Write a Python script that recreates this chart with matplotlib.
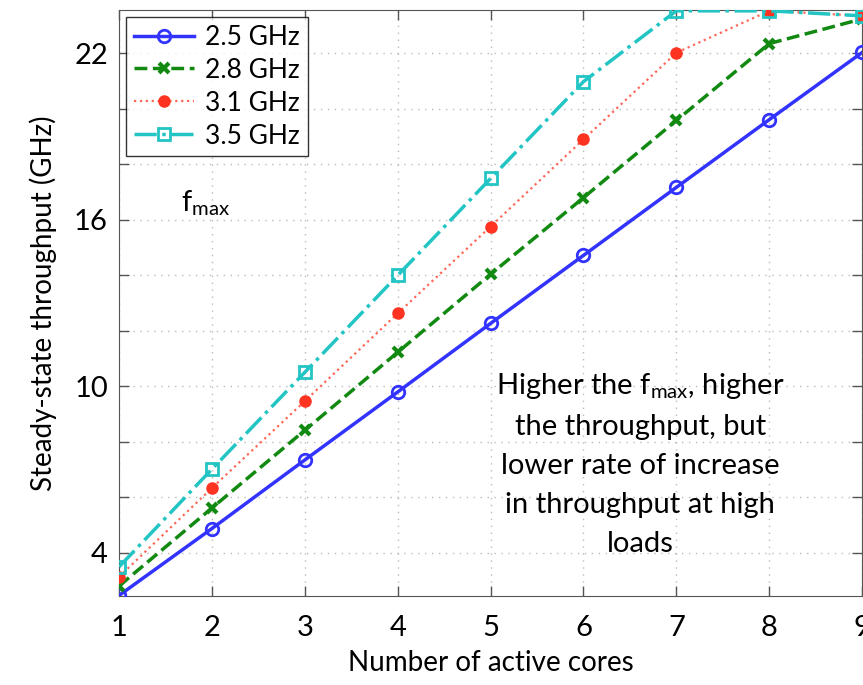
import matplotlib
matplotlib.use("Agg")
import matplotlib.pyplot as plt
import numpy as np

plt.rcParams["font.family"] = ["Lato", "DejaVu Sans"]

cores = [1, 2, 3, 4, 5, 6, 7, 8, 9]
freq_labels = ["2.5 GHz", "2.8 GHz", "3.1 GHz", "3.5 GHz"]
tp_25 = [2.47, 4.88, 7.35, 9.8, 12.27, 14.72, 17.17, 19.61, 22.03]
tp_28 = [2.81, 5.62, 8.42, 11.23, 14.04, 16.8, 19.58, 22.35, 23.24]
tp_31 = [3.14, 6.34, 9.47, 12.63, 15.76, 18.9, 22.02, 23.53, 23.35]
tp_35 = [3.5, 7.02, 10.51, 14.0, 17.49, 20.98, 23.53, 23.53, 23.35]

y_ticks = [4, 6, 8, 10, 12, 14, 16, 18, 20, 22]
y_labels = ["4", "", "", "10", "", "", "16", "", "", "22"]

fig = plt.figure(figsize=(8.63, 6.85), dpi=100)
ax = fig.add_axes([0.138, 0.130, 0.861, 0.855])

ax.plot(cores, tp_25, "-o", color="#3333ff", lw=2.5, ms=9, mfc="none", mew=2,
        label=freq_labels[0], zorder=3)
ax.plot(cores, tp_28, "--x", color="#128a12", lw=2.5, ms=7, mew=3,
        label=freq_labels[1], zorder=3)
ax.plot(cores, tp_31, ":o", color="#ff6655", lw=1.6, ms=8, mfc="#ff3322",
        mec="#ff3322", label=freq_labels[2], zorder=3)
ax.plot(cores, tp_35, "-.s", color="#22c4c4", lw=2.5, ms=8, mfc="none", mew=2,
        label=freq_labels[3], zorder=3)

ax.set_xlim(1, 9)
ax.set_ylim(2.45, 23.55)
ax.set_xticks(cores)
ax.set_yticks(y_ticks)
ax.set_yticklabels(y_labels)
ax.tick_params(direction="in", length=7, width=1, colors="#555555",
               labelcolor="black", labelsize=21, top=True, right=True, pad=8)
ax.tick_params(axis="x", pad=14)
ax.grid(True, linestyle=(0, (1, 4)), color="#bbbbbb", lw=1)
for s in ax.spines.values():
    s.set_color("#555555")

ax.set_xlabel("Number of active cores", fontsize=20, labelpad=6)
ax.set_ylabel("Steady-state throughput (GHz)", fontsize=20, labelpad=12)

leg = ax.legend(loc="upper left", frameon=True, fancybox=False,
                edgecolor="black", borderpad=0.3, labelspacing=0.3,
                handlelength=2.3, handletextpad=0.4, borderaxespad=0.25,
                prop={"size": 19})
leg.get_frame().set_linewidth(1)

ax.text(1.93, 16.6, r"f$_\mathregular{max}$", fontsize=21, ha="center", va="center")
ax.text(6.61, 7.2, "Higher the f$_\\mathregular{max}$, higher\nthe throughput, but\n"
        "lower rate of increase\nin throughput at high\nloads",
        fontsize=21, ha="center", va="center", linespacing=1.62)

fig.savefig("out.png", dpi=100)
